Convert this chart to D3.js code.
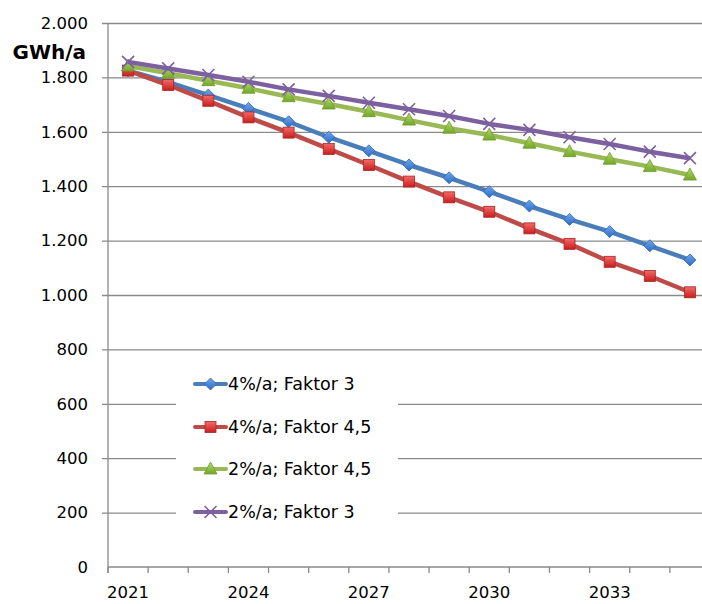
<!DOCTYPE html>
<html>
<head>
<meta charset="utf-8">
<script src="https://cdn.jsdelivr.net/npm/d3@7"></script>
<style>
  html, body { margin: 0; padding: 0; background: #fff; }
  svg { display: block; }
</style>
</head>
<body>
<svg id="chart" width="702" height="604"></svg>
<script>
// Jahre (Kategorien der x-Achse)
const years = ["2021","2022","2023","2024","2025","2026","2027","2028","2029","2030","2031","2032","2033","2034","2035"];
// beschriftete Jahre
const yearLabels = ["2021","2024","2027","2030","2033"];
// y-Achsen-Ticks in MWh/a
const yTicks = [0, 200, 400, 600, 800, 1000, 1200, 1400, 1600, 1800, 2000];

// Verbrauchsszenarien
const seriesNames = ["4%/a; Faktor 3", "4%/a; Faktor 4,5", "2%/a; Faktor 4,5", "2%/a; Faktor 3"];
const s4f3  = [1825, 1783, 1735, 1686, 1637, 1580, 1530, 1478, 1431, 1380, 1327, 1278, 1233, 1181, 1129];
const s4f45 = [1825, 1772, 1714, 1653, 1597, 1537, 1478, 1417, 1359, 1306, 1245, 1188, 1122, 1070, 1010];
const s2f45 = [1842, 1815, 1788, 1760, 1729, 1702, 1674, 1643, 1613, 1588, 1558, 1527, 1499, 1472, 1441];
const s2f3  = [1857, 1833, 1809, 1784, 1756, 1732, 1707, 1683, 1658, 1629, 1607, 1580, 1555, 1527, 1503];

const seriesData = [s4f3, s4f45, s2f45, s2f3];
const lineColors = ["#4A7EBB", "#BE4B48", "#98B954", "#7D60A0"];
const markerTypes = ["diamond", "square", "triangle", "cross"];

const svg = d3.select("#chart");
const fontFam = "'DejaVu Sans', Verdana, sans-serif";

const x = d3.scaleBand().domain(years).range([108, 710]).padding(0);
const y = d3.scaleLinear().domain([0, 2000]).range([567, 23]);

const de = d3.formatLocale({ decimal: ",", thousands: ".", grouping: [3], currency: ["", " €"] });
const fmt = de.format(",d");

// Verläufe für die Marker
const defs = svg.append("defs");
function grad(id, c1, c2) {
  const g = defs.append("linearGradient").attr("id", id)
    .attr("x1", 0).attr("y1", 0).attr("x2", 0).attr("y2", 1);
  g.append("stop").attr("offset", "0%").attr("stop-color", c1);
  g.append("stop").attr("offset", "100%").attr("stop-color", c2);
}
grad("gBlue", "#6FA6EC", "#2C6BC8");
grad("gRed", "#F56A67", "#C81E1C");
grad("gGreen", "#B4DA6A", "#72A82A");

// Gitterlinien und y-Achse
const yAxis = d3.axisLeft(y).tickValues(yTicks).tickSize(-(702 - 108) - 10).tickSizeOuter(0).tickPadding(20).tickFormat(fmt);
const gy = svg.append("g").attr("transform", "translate(108,0)").call(yAxis);
gy.select(".domain").remove();
gy.selectAll(".tick line").attr("x1", -6).attr("stroke", "#8A8A8A").attr("stroke-width", 1.3);
gy.selectAll(".tick text").attr("font-family", fontFam).attr("font-size", "16.5px").attr("fill", "#000");
gy.selectAll(".tick").filter(d => d === 0).select("line").remove();

// Einheit
svg.append("text").attr("x", 86).attr("y", 59).attr("text-anchor", "end")
  .attr("font-family", fontFam).attr("font-weight", "bold").attr("font-size", "20px").text("GWh/a");

// x-Achse
const xAxis = d3.axisBottom(x).tickSize(6).tickSizeOuter(0).tickFormat(d => yearLabels.includes(d) ? d : "");
const gx = svg.append("g").attr("transform", "translate(0,567)").call(xAxis);
gx.select(".domain").attr("stroke", "#8A8A8A").attr("stroke-width", 1.3).attr("d", "M108,0H710");
// Tickmarken an den Kategoriegrenzen
gx.selectAll(".tick line").attr("transform", `translate(${-x.bandwidth() / 2},0)`).attr("stroke", "#8A8A8A").attr("stroke-width", 1.3);
gx.selectAll(".tick text").attr("font-family", fontFam).attr("font-size", "16.5px").attr("fill", "#000").attr("dy", "1.35em");

// senkrechte Achsenlinie
svg.append("line").attr("x1", 108).attr("x2", 108).attr("y1", 23).attr("y2", 573)
  .attr("stroke", "#8A8A8A").attr("stroke-width", 1.3);

// Marker zeichnen
function drawMarker(g, type, cx, cy) {
  if (type === "diamond") {
    g.append("path").attr("d", `M${cx},${cy - 6}L${cx + 6},${cy}L${cx},${cy + 6}L${cx - 6},${cy}Z`)
      .attr("fill", "url(#gBlue)").attr("stroke", "#2F64AC").attr("stroke-width", 0.8);
  } else if (type === "square") {
    g.append("rect").attr("x", cx - 5.5).attr("y", cy - 5.5).attr("width", 11).attr("height", 11)
      .attr("fill", "url(#gRed)").attr("stroke", "#A32825").attr("stroke-width", 0.8);
  } else if (type === "triangle") {
    g.append("path").attr("d", `M${cx},${cy - 7}L${cx + 6.5},${cy + 5}L${cx - 6.5},${cy + 5}Z`)
      .attr("fill", "url(#gGreen)").attr("stroke", "#6E9A2E").attr("stroke-width", 0.8);
  } else {
    g.append("path").attr("d", `M${cx - 6},${cy - 6}L${cx + 6},${cy + 6}M${cx - 6},${cy + 6}L${cx + 6},${cy - 6}`)
      .attr("stroke", "#7D60A0").attr("stroke-width", 1.6).attr("fill", "none");
  }
}

const line = d3.line().x((d, i) => x(years[i]) + x.bandwidth() / 2).y(d => y(d));

seriesData.forEach((vals, si) => {
  const g = svg.append("g");
  g.append("path").datum(vals).attr("d", line).attr("fill", "none")
    .attr("stroke", lineColors[si]).attr("stroke-width", 4.5).attr("stroke-linejoin", "round");
  vals.forEach((v, i) => drawMarker(g, markerTypes[si], x(years[i]) + x.bandwidth() / 2, y(v)));
});

// Legende
const lg = svg.append("g");
lg.append("rect").attr("x", 176).attr("y", 362).attr("width", 222).attr("height", 166).attr("fill", "#fff");
const legendY = [384, 427, 469, 512];
seriesNames.forEach((name, si) => {
  const ly = legendY[si];
  lg.append("line").attr("x1", 195).attr("x2", 226).attr("y1", ly).attr("y2", ly)
    .attr("stroke", lineColors[si]).attr("stroke-width", 4).attr("stroke-linecap", "round");
  drawMarker(lg, markerTypes[si], 210.5, ly);
  lg.append("text").attr("x", 228).attr("y", ly).attr("dy", "0.36em")
    .attr("font-family", fontFam).attr("font-size", "17.5px").attr("fill", "#000").text(name);
});
</script>
</body>
</html>
